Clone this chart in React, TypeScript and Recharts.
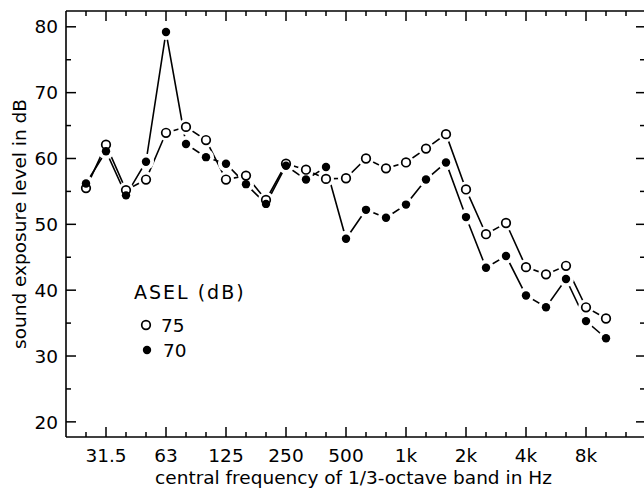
import { LineChart, Line, XAxis, YAxis } from 'recharts'

// 1/3-octave band centres, 25 Hz .. 10 kHz (index = position on the x axis)
const bandLabels = ['25', '31.5', '40', '50', '63', '80', '100', '125', '160', '200', '250', '315', '400', '500', '630', '800', '1k', '1.25k', '1.6k', '2k', '2.5k', '3.15k', '4k', '5k', '6.3k', '8k', '10k']

// sound exposure level in dB, ASEL 75 dB (open) and 70 dB (filled)
const level75 = [55.5, 62.1, 55.2, 56.8, 63.9, 64.8, 62.8, 56.8, 57.4, 53.7, 59.2, 58.3, 56.9, 57.0, 60.0, 58.5, 59.4, 61.5, 63.7, 55.3, 48.5, 50.2, 43.5, 42.4, 43.7, 37.4, 35.7]
const level70 = [56.2, 61.1, 54.4, 59.5, 79.2, 62.2, 60.2, 59.2, 56.1, 53.1, 58.9, 56.8, 58.7, 47.8, 52.2, 51.0, 53.0, 56.8, 59.4, 51.1, 43.4, 45.2, 39.2, 37.4, 41.7, 35.3, 32.7]

const xTicks = [0, 1, 2, 3, 4, 5, 6, 7, 8, 9, 10, 11, 12, 13, 14, 15, 16, 17, 18, 19, 20, 21, 22, 23, 24, 25, 26, 27]
const majorTickIndex = [1, 4, 7, 10, 13, 16, 19, 22, 25]
const majorTickLabels = ['31.5', '63', '125', '250', '500', '1k', '2k', '4k', '8k']
const yTicks = [20, 25, 30, 35, 40, 45, 50, 55, 60, 65, 70, 75, 80]

const legendTitle = 'ASEL (dB)'
const legendLabels = ['75', '70']

const data = level75.map((v, i) => ({ band: i, name: bandLabels[i], b75: v, b70: level70[i] }))

const FONT = 'DejaVu Sans'
const FS = 18.5
const X_DOMAIN = [-1, 27.95]
const Y_DOMAIN = [17.7, 82.4]

function BottomTick(props: any) {
  const { x, y, payload } = props
  const idx = majorTickIndex.indexOf(payload.value)
  const major = idx >= 0
  return (
    <g>
      <line x1={x} x2={x} y1={y} y2={y - (major ? 10 : 5)} stroke="#000" strokeWidth={1.5} />
      {major && (
        <text x={x} y={y + 25} textAnchor="middle" fontSize={FS} fontFamily={FONT} fill="#000">
          {majorTickLabels[idx]}
        </text>
      )}
    </g>
  )
}

function TopTick(props: any) {
  const { x, y, payload } = props
  const major = majorTickIndex.indexOf(payload.value) >= 0
  return <line x1={x} x2={x} y1={y} y2={y + (major ? 10 : 5)} stroke="#000" strokeWidth={1.5} />
}

function LeftTick(props: any) {
  const { x, y, payload } = props
  const major = payload.value % 10 === 0
  return (
    <g>
      <line x1={x} x2={x + (major ? 10 : 5)} y1={y} y2={y} stroke="#000" strokeWidth={1.5} />
      {major && (
        <text x={x - 8} y={y} dy="0.36em" textAnchor="end" fontSize={FS} fontFamily={FONT} fill="#000">
          {payload.value}
        </text>
      )}
    </g>
  )
}

function RightTick(props: any) {
  const { x, y, payload } = props
  const major = payload.value % 10 === 0
  return <line x1={x} x2={x - (major ? 9 : 5)} y1={y} y2={y} stroke="#000" strokeWidth={1.5} />
}

const haloDot = (props: any) => (
  <circle key={`h-${props.dataKey}-${props.index}`} cx={props.cx} cy={props.cy} r={8} fill="#fff" stroke="none" />
)
const openDot = (props: any) => (
  <circle key={`o-${props.index}`} cx={props.cx} cy={props.cy} r={4.3} fill="#fff" stroke="#000" strokeWidth={1.7} />
)
const filledDot = (props: any) => (
  <circle key={`f-${props.index}`} cx={props.cx} cy={props.cy} r={4.2} fill="#000" stroke="none" />
)

const axisLine = { stroke: '#000', strokeWidth: 1.6 }

export default function App() {
  return (
    <div style={{ position: 'absolute', left: 0, top: 0, width: 644, height: 494, background: '#fff', overflow: 'hidden' }}>
      <LineChart width={648} height={494} data={data} margin={{ top: 10, right: 2, bottom: 56, left: 65 }}>
        <XAxis
          xAxisId="bottom"
          dataKey="band"
          type="number"
          domain={X_DOMAIN}
          ticks={xTicks}
          interval={0}
          height={1}
          tickSize={0}
          tickMargin={0}
          tickLine={false}
          axisLine={axisLine}
          tick={BottomTick}
        />
        <XAxis
          xAxisId="top"
          orientation="top"
          dataKey="band"
          type="number"
          domain={X_DOMAIN}
          ticks={xTicks}
          interval={0}
          height={1}
          tickSize={0}
          tickMargin={0}
          tickLine={false}
          axisLine={axisLine}
          tick={TopTick}
        />
        <YAxis
          yAxisId="left"
          type="number"
          domain={Y_DOMAIN}
          ticks={yTicks}
          interval={0}
          width={1}
          tickSize={0}
          tickMargin={0}
          tickLine={false}
          axisLine={axisLine}
          tick={LeftTick}
        />
        <YAxis
          yAxisId="right"
          orientation="right"
          type="number"
          domain={Y_DOMAIN}
          ticks={yTicks}
          interval={0}
          width={1}
          tickSize={0}
          tickMargin={0}
          tickLine={false}
          axisLine={{ stroke: 'none' }}
          tick={RightTick}
        />
        <Line xAxisId="bottom" yAxisId="left" dataKey="b75" type="linear" stroke="#000" strokeWidth={1.6} dot={false} activeDot={false} isAnimationActive={false} />
        <Line xAxisId="bottom" yAxisId="left" dataKey="b70" type="linear" stroke="#000" strokeWidth={1.6} dot={false} activeDot={false} isAnimationActive={false} />
        <Line xAxisId="top" yAxisId="right" dataKey="b75" type="linear" stroke="none" dot={haloDot} activeDot={false} isAnimationActive={false} />
        <Line xAxisId="top" yAxisId="right" dataKey="b70" type="linear" stroke="none" dot={haloDot} activeDot={false} isAnimationActive={false} />
        <Line xAxisId="bottom" yAxisId="left" dataKey="b75" type="linear" stroke="none" dot={openDot} activeDot={false} isAnimationActive={false} />
        <Line xAxisId="bottom" yAxisId="left" dataKey="b70" type="linear" stroke="none" dot={filledDot} activeDot={false} isAnimationActive={false} />
      </LineChart>
      <svg width={644} height={494} style={{ position: 'absolute', left: 0, top: 0, pointerEvents: 'none' }}>
        <text x={353.5} y={484} textAnchor="middle" fontSize={FS} fontFamily={FONT} fill="#000">
          central frequency of 1/3-octave band in Hz
        </text>
        <text x={19} y={224} dy="0.36em" textAnchor="middle" fontSize={FS} fontFamily={FONT} fill="#000" transform="rotate(-90, 19, 224)">
          sound exposure level in dB
        </text>
        <text x={134} y={292} dy="0.36em" fontSize={19} letterSpacing={2} fontFamily={FONT} fill="#000">{legendTitle}</text>
        <circle cx={146} cy={325} r={4.3} fill="#fff" stroke="#000" strokeWidth={1.7} />
        <text x={161} y={325} dy="0.36em" fontSize={FS} fontFamily={FONT} fill="#000">{legendLabels[0]}</text>
        <circle cx={147} cy={350} r={4.2} fill="#000" />
        <text x={163} y={350} dy="0.36em" fontSize={FS} fontFamily={FONT} fill="#000">{legendLabels[1]}</text>
      </svg>
    </div>
  )
}
